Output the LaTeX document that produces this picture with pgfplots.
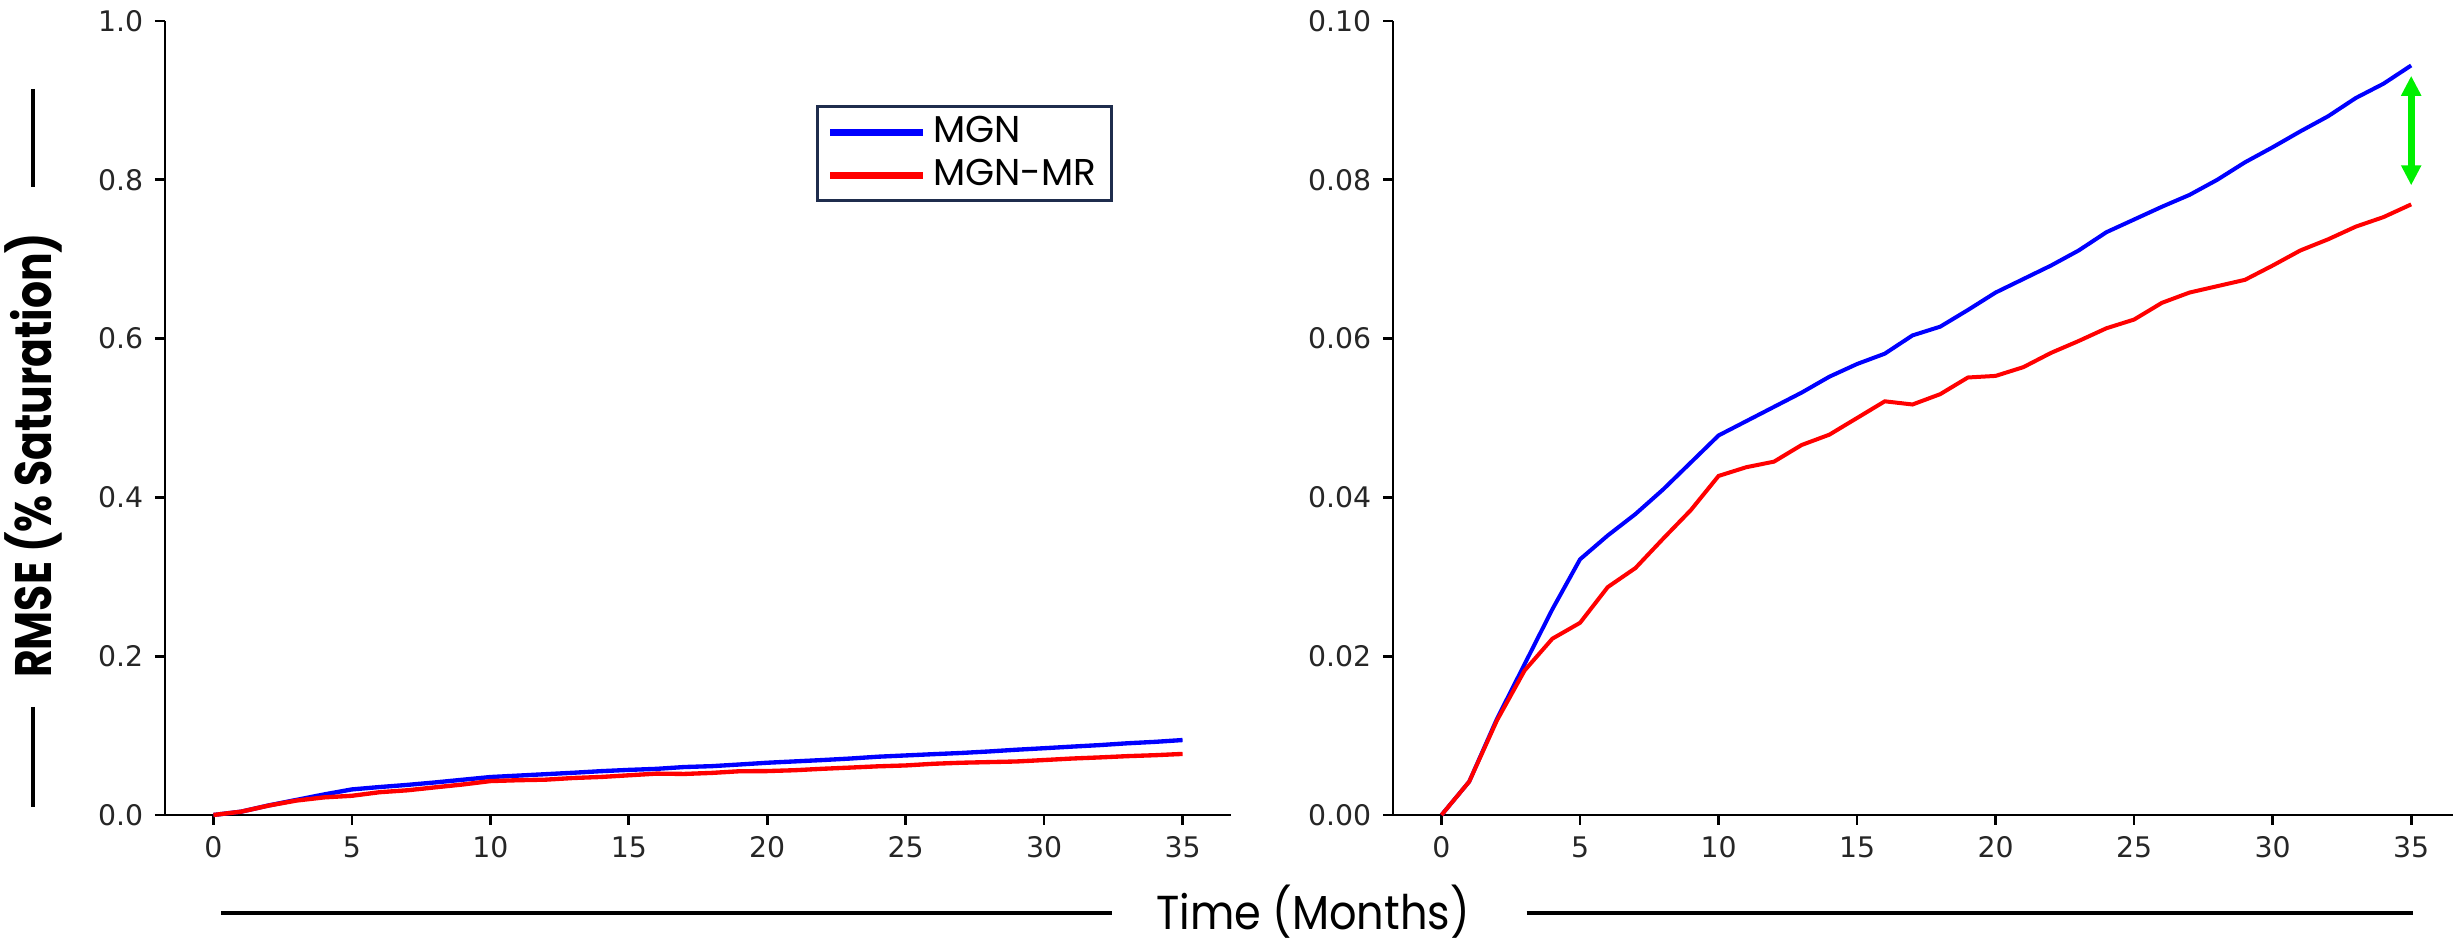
\documentclass[border=0pt]{standalone}
\usepackage{pgfplots}
\pgfplotsset{compat=1.18}
\usepackage{pgfplotstable}
\usepackage{graphicx}
\usepackage{fontspec}
\usetikzlibrary{arrows.meta}
\setmainfont{DejaVu Sans}
\newfontfamily\gothic{Poppins}
\definecolor{legframe}{HTML}{1F2D4D}
\definecolor{arrgreen}{HTML}{00F000}
\definecolor{mgnblue}{HTML}{0000FF}
\definecolor{mgnred}{HTML}{FF0000}

\pgfplotstableread{
x mgn mgnmr
0 0.0000 0.0000
1 0.0042 0.0042
2 0.0121 0.0119
3 0.0190 0.0182
4 0.0259 0.0222
5 0.0322 0.0242
6 0.0352 0.0287
7 0.0379 0.0311
8 0.0410 0.0348
9 0.0444 0.0384
10 0.0478 0.0427
11 0.0496 0.0438
12 0.0514 0.0445
13 0.0532 0.0466
14 0.0552 0.0479
15 0.0568 0.0500
16 0.0581 0.0521
17 0.0604 0.0517
18 0.0615 0.0530
19 0.0636 0.0551
20 0.0658 0.0553
21 0.0675 0.0564
22 0.0692 0.0582
23 0.0711 0.0597
24 0.0734 0.0613
25 0.0750 0.0624
26 0.0766 0.0645
27 0.0781 0.0658
28 0.0800 0.0666
29 0.0822 0.0674
30 0.0841 0.0692
31 0.0861 0.0711
32 0.0880 0.0725
33 0.0903 0.0741
34 0.0921 0.0753
35 0.0944 0.0769
}\rmse

\pgfplotsset{
  base/.style={
    scale only axis,
    anchor=south west,
    axis lines=left,
    axis line style={-, line width=0.8pt, black},
    tick align=outside,
    major tick length=3pt,
    tick style={line width=0.8pt, black},
    xmin=-1.75,
    xtick={0,5,10,15,20,25,30,35},
    ymin=0,
    height=238.2pt,
    ticklabel style={font=\fontsize{8.5}{10}\selectfont, text=black!85},
    /pgf/number format/assume math mode=true,
    scaled y ticks=false,
    clip=false,
  }
}

\begin{document}
\begin{tikzpicture}
\useasboundingbox (0,0) rectangle (735.9pt,283.2pt);

\begin{axis}[base, at={(49.5pt,38.7pt)}, width=319.8pt, xmax=36.75, ymax=1,
  ytick={0,0.2,0.4,0.6,0.8,1.0},
  yticklabel style={/pgf/number format/.cd, fixed, fixed zerofill, precision=1},
  legend cell align=left,
  legend style={at={(0.611,0.894)}, anchor=north west, draw=legframe,
    line width=0.9pt, fill=white, inner xsep=2.6pt, inner ysep=1pt,
    row sep=-0.5pt, font=\gothic\fontsize{11.2}{12}\selectfont},
  legend image code/.code={\draw[line width=2.2pt] (0pt,0pt) -- (27.8pt,0pt);},
]
\addplot[mgnblue, line width=1.3pt] table[x=x, y=mgn]{\rmse};
\addlegendentry{MGN}
\addplot[mgnred, line width=1.3pt] table[x=x, y=mgnmr]{\rmse};
\addlegendentry{MGN-MR}
\end{axis}

\begin{axis}[base, at={(417.9pt,38.7pt)}, width=318pt, xmax=36.51, ymax=0.1,
  ytick={0,0.02,0.04,0.06,0.08,0.10},
  yticklabel style={/pgf/number format/.cd, fixed, fixed zerofill, precision=2},
]
\addplot[mgnblue, line width=1.2pt] table[x=x, y=mgn]{\rmse};
\addplot[mgnred, line width=1.2pt] table[x=x, y=mgnmr]{\rmse};
\draw[arrgreen, line width=2pt, {Triangle[width=5.7pt,length=6pt]}-{Triangle[width=5.7pt,length=6pt]}]
  (axis cs:35,0.0931) -- (axis cs:35,0.0793);
\end{axis}

% decorations around the y label
\draw[line width=1.2pt] (9.9pt,256.5pt) -- (9.9pt,227.1pt);
\draw[line width=1.2pt] (9.9pt,71.1pt) -- (9.9pt,41.1pt);
\node[rotate=90, anchor=base, inner sep=0pt] at (15.5pt,146.6pt)
  {\resizebox{133.5pt}{\height}{\gothic\bfseries\fontsize{15.4}{18}\selectfont RMSE (\% Saturation)}};

% x label with lines
\draw[line width=1.2pt] (66.3pt,9.2pt) -- (333.5pt,9.2pt);
\draw[line width=1.2pt] (458pt,9.2pt) -- (723.8pt,9.2pt);
\node[anchor=base, inner sep=0pt] at (393.9pt,4.2pt)
  {\resizebox{94pt}{\height}{\gothic\fontsize{14.3}{16}\selectfont Time (Months)}};
\end{tikzpicture}
\end{document}
